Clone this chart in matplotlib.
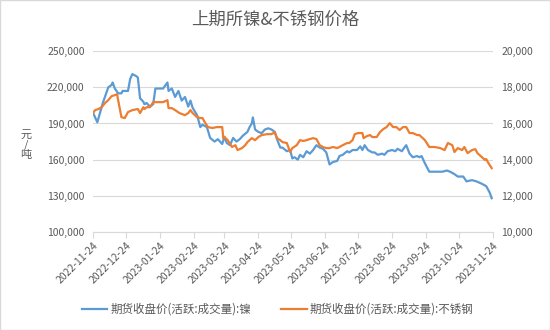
import matplotlib
matplotlib.use("Agg")
import matplotlib.pyplot as plt
import matplotlib.dates as mdates
import matplotlib.ticker as mticker
import pandas as pd

plt.rcParams["font.family"] = ["Noto Sans CJK SC", "DejaVu Sans"]

# ── Data ─────────────────────────────────────────────────────────────────────
START = "2022-11-24"

nickel_days = [
    0, 4, 9, 14, 17, 18, 20, 23, 26, 27, 32, 34, 36, 40, 41, 43, 46, 47, 49, 52,
    55, 57, 64, 68, 69, 72, 75, 78, 81, 84, 87, 89, 91, 95, 98, 100, 104, 107,
    111, 114, 118, 120, 122, 125, 128, 131, 134, 137, 141, 143, 145, 146, 148,
    151, 154, 157, 160, 163, 166, 168, 171, 173, 177, 180, 182, 184, 187, 189,
    192, 195, 198, 201, 204, 207, 210, 213, 216, 219, 223, 225, 228, 232, 234,
    237, 241, 244, 246, 248, 251, 255, 257, 260, 264, 266, 269, 273, 276, 278,
    282, 285, 286, 289, 292, 296, 298, 300, 303, 307, 314, 319, 323, 326, 330,
    333, 338, 341, 346, 350, 355, 359, 362, 364,
]
nickel_price = [
    199000, 191000, 207000, 220000, 222000, 224000, 219000, 215000, 215000,
    217000, 217000, 227000, 231000, 229000, 228000, 211000, 208000, 206000,
    207000, 204000, 206000, 219000, 219000, 224000, 217000, 219000, 212000,
    217000, 209000, 212000, 204000, 209000, 203000, 197000, 187000, 189000,
    187000, 178000, 175000, 177000, 173000, 179000, 174000, 172000, 178000,
    175000, 177000, 180000, 183000, 187000, 190000, 195000, 185000, 183000,
    182000, 185000, 186000, 185000, 183000, 177000, 170000, 170000, 167000,
    168000, 161000, 162000, 160000, 164000, 162000, 167000, 165000, 168000,
    172000, 170000, 169000, 166000, 156000, 158000, 159000, 163000, 164000,
    167000, 166000, 168000, 168000, 171000, 168000, 172000, 168000, 166000,
    166000, 164000, 165000, 164000, 167000, 168000, 167000, 169000, 167000,
    171000, 172000, 165000, 162000, 163000, 162000, 163000, 157000, 150000,
    150000, 150000, 151000, 150000, 148000, 146000, 146000, 142000, 143000,
    142000, 140000, 138000, 133000, 128000,
]

ss_days = [
    0, 2, 5, 8, 11, 14, 17, 20, 22, 23, 26, 29, 32, 36, 41, 43, 46, 47, 49, 52,
    55, 64, 68, 69, 72, 75, 79, 84, 87, 89, 91, 95, 98, 100, 102, 105, 109, 113,
    116, 118, 119, 120, 123, 127, 130, 132, 136, 139, 141, 145, 148, 151, 154,
    159, 163, 166, 168, 171, 173, 177, 180, 182, 186, 189, 192, 195, 198, 201,
    204, 207, 210, 213, 216, 219, 223, 225, 228, 232, 234, 237, 239, 242, 246,
    247, 250, 253, 255, 259, 262, 265, 268, 271, 274, 277, 280, 283, 286, 289,
    292, 296, 298, 303, 307, 312, 317, 321, 324, 328, 330, 333, 337, 339, 342,
    346, 349, 351, 355, 358, 359, 361, 364,
]
ss_price = [
    16575, 16740, 16800, 16900, 17130, 17290, 17510, 17570, 17620, 17290,
    16350, 16300, 16630, 16740, 16800, 16575, 16900, 16800, 16900, 16900,
    17180, 17180, 17290, 16850, 16850, 16740, 16575, 16460, 16575, 16740,
    16575, 16350, 16300, 16300, 16080, 15800, 15750, 15800, 15800, 15800,
    15190, 15250, 15080, 14700, 14800, 14530, 14640, 14800, 14970, 15190,
    15080, 15250, 15360, 15410, 15410, 15520, 15190, 15080, 14970, 14920,
    14420, 14640, 14800, 15080, 15030, 15080, 15140, 15190, 15140, 14800,
    14700, 14640, 14640, 14700, 14640, 14700, 14800, 14920, 14920, 15080,
    15410, 15470, 15470, 15190, 15300, 15360, 15250, 15250, 15520, 15690,
    15800, 16020, 15800, 15800, 15640, 15800, 15800, 15470, 15470, 15360,
    15360, 15080, 14700, 14700, 14640, 14530, 14920, 14800, 14420, 14640,
    14530, 14700, 14360, 14530, 14580, 14360, 14140, 13980, 14030, 13810,
    13530,
]

tick_dates = pd.date_range("2022-11-01", "2023-11-01", freq="MS") + pd.Timedelta(days=23)

TITLE = "上期所镍&不锈钢价格"
NICKEL_LABEL = "期货收盘价(活跃:成交量):镍"
SS_LABEL = "期货收盘价(活跃:成交量):不锈钢"

# ── Plot ─────────────────────────────────────────────────────────────────────
BLUE = "#5B9BD5"
ORANGE = "#ED7D31"
TEXT = "#595959"
GRID = "#D9D9D9"

start = pd.Timestamp(START)
nickel_x = start + pd.to_timedelta(nickel_days, unit="D")
ss_x = start + pd.to_timedelta(ss_days, unit="D")

fig = plt.figure(figsize=(5.5, 3.3), dpi=100)
ax = fig.add_axes([0.169, 0.297, 0.727, 0.548])
ax2 = ax.twinx()

ax.plot(nickel_x, nickel_price, color=BLUE, lw=1.6, label=NICKEL_LABEL, zorder=3)
ax2.plot(ss_x, ss_price, color=ORANGE, lw=1.6, label=SS_LABEL, zorder=3)

ax.set_ylim(100000, 250000)
ax.set_yticks(range(100000, 250001, 30000))
ax.yaxis.set_major_formatter(mticker.StrMethodFormatter("{x:,.0f}"))
ax2.set_ylim(10000, 20000)
ax2.set_yticks(range(10000, 20001, 2000))
ax2.yaxis.set_major_formatter(mticker.StrMethodFormatter("{x:,.0f}"))

ax.set_xlim(tick_dates[0], tick_dates[-1])
ax.set_xticks(tick_dates)
ax.xaxis.set_major_formatter(mdates.DateFormatter("%Y-%m-%d"))
for lbl in ax.get_xticklabels():
    lbl.set_rotation(45)
    lbl.set_ha("right")
    lbl.set_rotation_mode("anchor")

ax.grid(axis="y", color=GRID, lw=0.8)
ax.set_axisbelow(True)

for a in (ax, ax2):
    for s in ("top", "left", "right"):
        a.spines[s].set_visible(False)
    a.spines["bottom"].set_color(GRID)
    a.tick_params(axis="y", length=0, labelsize=7.5, labelcolor=TEXT, pad=6)
ax2.spines["bottom"].set_visible(False)
ax.tick_params(axis="x", length=4, color=GRID, labelsize=7.5, labelcolor=TEXT, pad=2)

fig.text(0.5, 0.94, TITLE, ha="center", va="center", fontsize=12.5, color=TEXT)
fig.text(0.047, 0.56, "元\n/\n吨", ha="center", va="center", fontsize=8,
         color=TEXT, linespacing=1.0)

h1, l1 = ax.get_legend_handles_labels()
h2, l2 = ax2.get_legend_handles_labels()
fig.legend(h1 + h2, l1 + l2, loc="center", bbox_to_anchor=(0.505, 0.063), ncol=2,
           frameon=False, fontsize=8.3, labelcolor=TEXT, handlelength=2.2,
           columnspacing=2.6, handletextpad=0.3)

fig.patches.append(plt.Rectangle((0, 0), 1, 1, transform=fig.transFigure,
                                 fill=False, edgecolor=GRID, lw=1))

fig.savefig("out.png", dpi=100)
